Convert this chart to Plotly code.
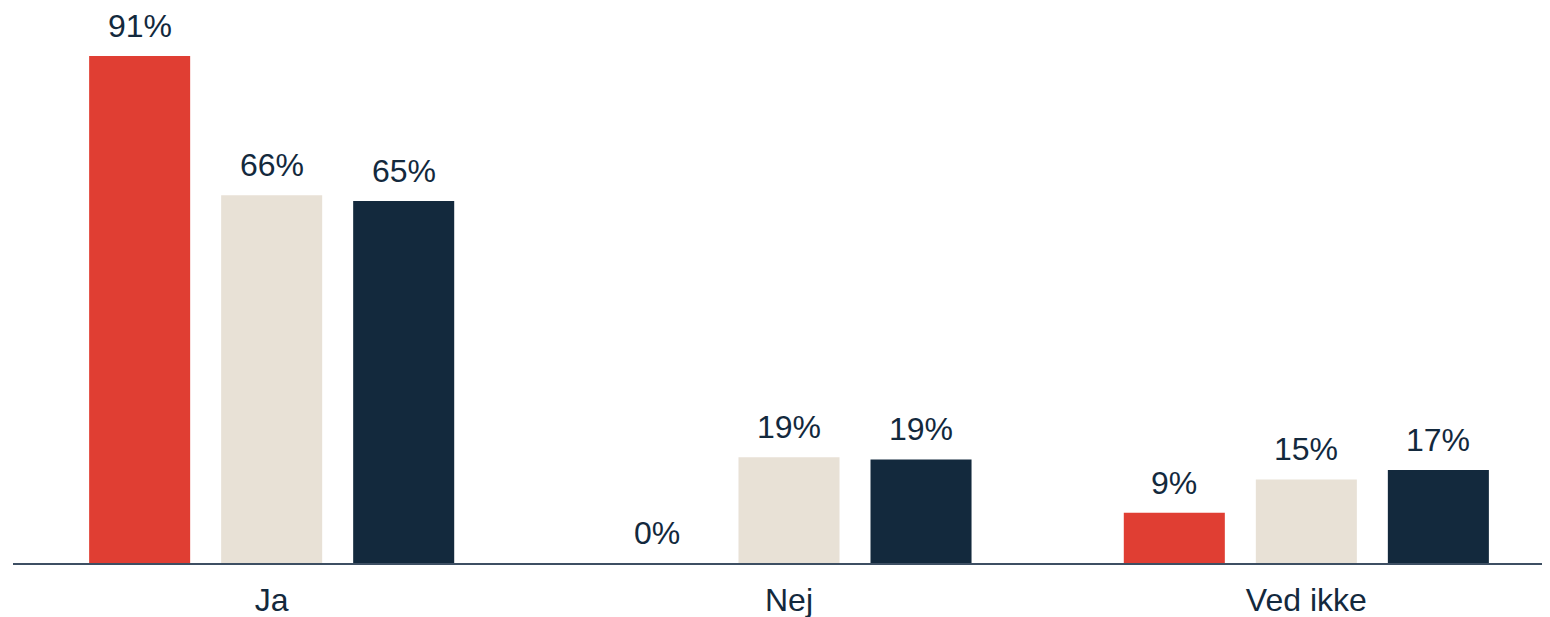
import plotly.graph_objects as go

categories = ["Ja", "Nej", "Ved ikke"]
series_names = ["Serie 1", "Serie 2", "Serie 3"]
red_values = [91, 0, 9]
beige_values = [66, 19, 15]
navy_values = [65, 18.6, 16.7]

colors = ["#e03e33", "#e8e1d6", "#13293d"]
text_color = "#13293d"
font_family = "Liberation Sans, Arial, sans-serif"

slot = 0.2552      # category units per bar slot
bar_w = 0.1953     # bar width in category units
xpos = list(range(len(categories)))

fig = go.Figure()
annotations = []
for k, (name, vals, col) in enumerate(zip(series_names, [red_values, beige_values, navy_values], colors)):
    off = (k - 1) * slot - bar_w / 2
    fig.add_trace(go.Bar(
        x=xpos, y=vals, name=name, width=bar_w, offset=off,
        marker=dict(color=col, line=dict(width=0)),
    ))
    for xi, v in zip(xpos, vals):
        annotations.append(dict(
            x=xi + off + bar_w / 2, y=v, xref="x", yref="y",
            text=f"{round(v)}%", showarrow=False,
            yanchor="bottom", yshift=10,
            font=dict(size=32, color=text_color, family=font_family),
        ))

fig.update_layout(
    width=1542, height=609,
    margin=dict(l=5, r=0, t=0, b=54),
    paper_bgcolor="white", plot_bgcolor="white",
    barmode="overlay",
    showlegend=False,
    font=dict(family=font_family, color=text_color),
    annotations=annotations,
    xaxis=dict(
        range=[-0.5, 2.471], showgrid=False, zeroline=False,
        showline=True, linecolor="#3d4f63", linewidth=2,
        tickvals=xpos, ticktext=categories,
        ticks="outside", ticklen=8, tickcolor="rgba(0,0,0,0)",
        tickfont=dict(size=32, color=text_color, family=font_family),
    ),
    yaxis=dict(range=[0, 555 / 5.571], visible=False, showgrid=False, zeroline=False),
)

fig.write_html("out.html")
